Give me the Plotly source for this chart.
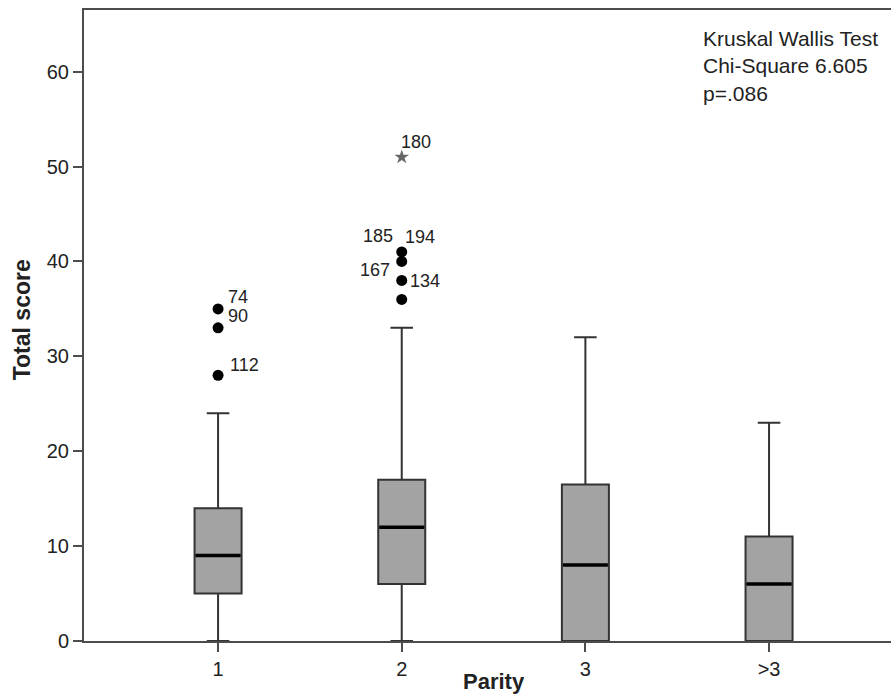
import plotly.graph_objects as go

# ---- data ----
categories = ["1", "2", "3", ">3"]
q1_vals = [5, 6, 0, 0]
median_vals = [9, 12, 8, 6]
q3_vals = [14, 17, 16.5, 11]
lower_whisker = [0, 0, 0, 0]
upper_whisker = [24, 33, 32, 23]

outlier_cats = ["1", "1", "1", "2", "2", "2", "2"]
outlier_vals = [35, 33, 28, 41, 40, 38, 36]
outlier_ids = ["74", "90", "112", "185", "194", "167", "134"]

extreme_cats = ["2"]
extreme_vals = [51]
extreme_ids = ["180"]

ytick_vals = [0, 10, 20, 30, 40, 50, 60]

stats_lines = ["Kruskal Wallis Test", "Chi-Square 6.605", "p=.086"]

# label placement styles (anchor, x shift px, y shift px) for each outlier label
outlier_label_style = [
    ("left", 8, 12), ("left", 8, 12), ("left", 10, 10),
    ("right", -7, 16), ("left", 1, 24), ("right", -10, 10), ("left", 6, 18),
]
extreme_label_style = [("left", -3, 15)]

FONT = "Liberation Sans, Arial, Helvetica, sans-serif"
AXIS_COLOR = "#4d4d4d"
TEXT_COLOR = "#222222"

fig = go.Figure()

fig.add_trace(go.Box(
    x=categories,
    q1=q1_vals, median=median_vals, q3=q3_vals,
    lowerfence=lower_whisker, upperfence=upper_whisker,
    fillcolor="#a3a3a3",
    line=dict(color="#333333", width=2),
    width=0.256,
    whiskerwidth=0.48,
    boxpoints=False,
    showlegend=False,
    hoverinfo="skip",
))

# thicker black median lines
fig.add_trace(go.Scatter(
    x=categories, y=median_vals, mode="markers",
    marker=dict(symbol="line-ew", size=32, line=dict(color="#000000", width=3.5)),
    showlegend=False, hoverinfo="skip",
))

# outliers (circles)
fig.add_trace(go.Scatter(
    x=outlier_cats, y=outlier_vals, mode="markers",
    marker=dict(symbol="circle", size=11, color="#000000"),
    showlegend=False, hoverinfo="skip",
))

# extreme values (stars)
fig.add_trace(go.Scatter(
    x=extreme_cats, y=extreme_vals, mode="markers",
    marker=dict(symbol="star", size=11, color="#666666"),
    showlegend=False, hoverinfo="skip",
))

annotations = []
for c, v, lab, (anc, xs, ys) in zip(outlier_cats + extreme_cats,
                                     outlier_vals + extreme_vals,
                                     outlier_ids + extreme_ids,
                                     outlier_label_style + extreme_label_style):
    annotations.append(dict(
        x=categories.index(c), y=v, xref="x", yref="y", text=lab, showarrow=False,
        xanchor=anc, yanchor="middle", xshift=xs, yshift=ys,
        font=dict(family=FONT, size=18, color=TEXT_COLOR),
    ))

annotations.append(dict(
    x=0.7646, y=0.977, xref="paper", yref="paper",
    text="<br>".join(stats_lines), showarrow=False,
    xanchor="left", yanchor="top", align="left",
    font=dict(family=FONT, size=21, color=TEXT_COLOR),
))

annotations.append(dict(
    x=0.508, y=-0.064, xref="paper", yref="paper",
    text="<b>Parity</b>", showarrow=False,
    xanchor="center", yanchor="middle",
    font=dict(family=FONT, size=22, color=TEXT_COLOR),
))

annotations.append(dict(
    x=-0.0775, y=0.509, xref="paper", yref="paper",
    text="<b>Total score</b>", showarrow=False, textangle=-90,
    xanchor="center", yanchor="middle",
    font=dict(family=FONT, size=23, color=TEXT_COLOR),
))

fig.update_layout(
    width=891, height=695,
    margin=dict(l=84, r=0, t=10, b=54),
    paper_bgcolor="white", plot_bgcolor="white",
    font=dict(family=FONT, size=20, color=TEXT_COLOR),
    annotations=annotations,
    showlegend=False,
)

fig.update_xaxes(
    type="category", categoryorder="array", categoryarray=categories,
    range=[-0.73, 3.664],
    showline=True, linecolor=AXIS_COLOR, linewidth=2, mirror=True,
    ticks="outside", ticklen=9, tickwidth=2, tickcolor=AXIS_COLOR,
    showgrid=False, zeroline=False,
    tickfont=dict(family=FONT, size=20, color=TEXT_COLOR),
)

fig.update_yaxes(
    range=[0, 66.5], tickvals=ytick_vals,
    showline=True, linecolor=AXIS_COLOR, linewidth=2, mirror=False,
    ticks="outside", ticklen=9, tickwidth=2, tickcolor=AXIS_COLOR,
    showgrid=False, zeroline=False,
    tickfont=dict(family=FONT, size=20, color=TEXT_COLOR),
)

fig.write_html("out.html",
               config={"displayModeBar": False, "staticPlot": True},
               post_script="document.body.style.margin='0';document.body.style.overflow='hidden';")
